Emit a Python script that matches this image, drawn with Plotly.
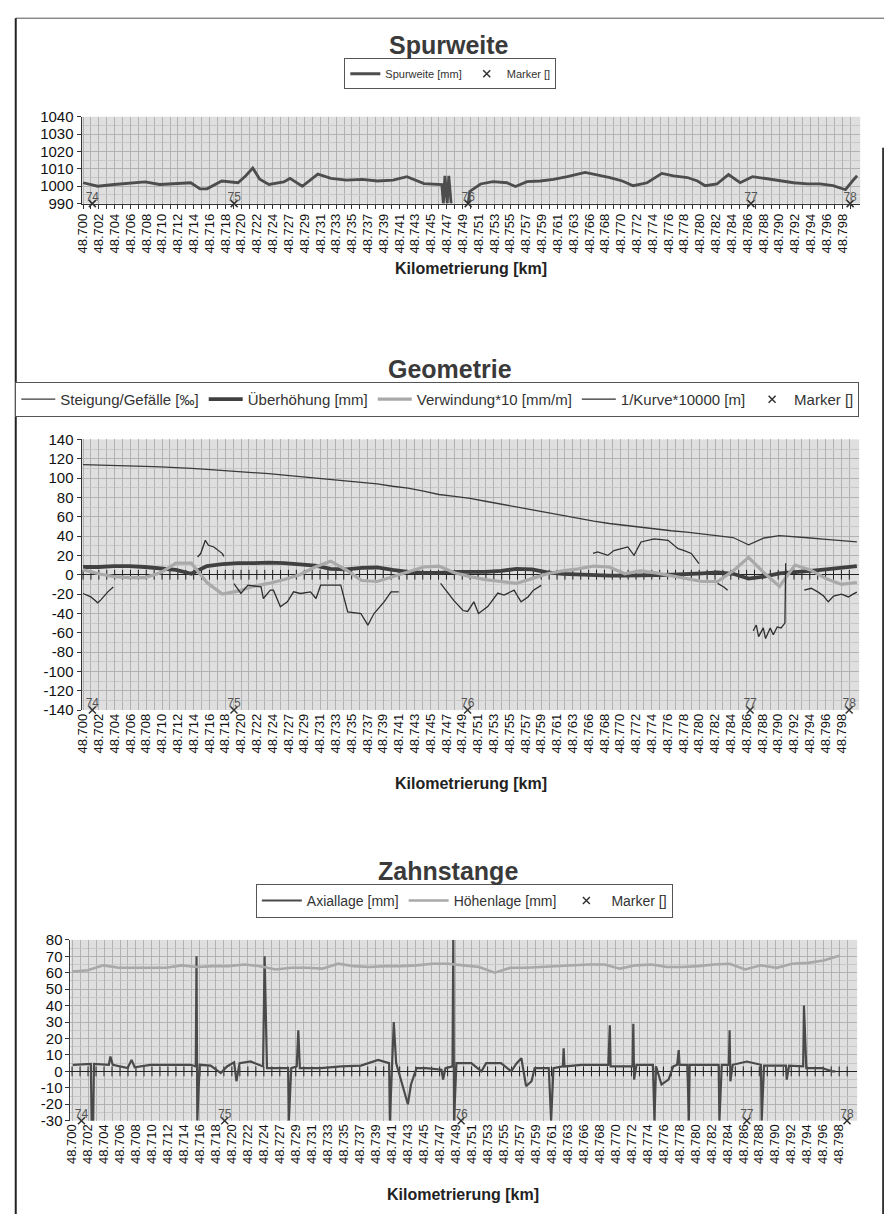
import plotly.graph_objects as go
import numpy as np

# ---------------- data ----------------
tick_labels = ["48.700", "48.702", "48.704", "48.706", "48.708", "48.710", "48.712", "48.714",
               "48.716", "48.718", "48.720", "48.722", "48.724", "48.727", "48.729", "48.731",
               "48.733", "48.735", "48.737", "48.739", "48.741", "48.743", "48.745", "48.747",
               "48.749", "48.751", "48.753", "48.755", "48.757", "48.759", "48.761", "48.763",
               "48.766", "48.768", "48.770", "48.772", "48.774", "48.776", "48.778", "48.780",
               "48.782", "48.784", "48.786", "48.788", "48.790", "48.792", "48.794", "48.796",
               "48.798"]
y1_ticks = [990, 1000, 1010, 1020, 1030, 1040]
y2_ticks = [-140, -120, -100, -80, -60, -40, -20, 0, 20, 40, 60, 80, 100, 120, 140]
y3_ticks = [-30, -20, -10, 0, 10, 20, 30, 40, 50, 60, 70, 80]

# Spurweite [mm]
spur_km = [48.7000, 48.7009, 48.7019, 48.7040, 48.7061, 48.7080, 48.7099, 48.7120, 48.7139,
           48.7151, 48.7160, 48.7179, 48.7200, 48.7210, 48.7219, 48.7228, 48.7240, 48.7259,
           48.7267, 48.7283, 48.7303, 48.7320, 48.7340, 48.7360, 48.7380, 48.7400, 48.7418,
           48.7440, 48.7461, 48.7463, 48.7465, 48.7467, 48.7470, 48.7472, 48.7475, 48.7486,
           48.7497, 48.7499, 48.7513, 48.7529, 48.7547, 48.7558, 48.7573, 48.7590, 48.7607,
           48.7625, 48.7648, 48.7664, 48.7680, 48.7696, 48.7710, 48.7728, 48.7747, 48.7762,
           48.7780, 48.7793, 48.7803, 48.7818, 48.7833, 48.7848, 48.7864, 48.7883, 48.7900,
           48.7917, 48.7935, 48.7951, 48.7968, 48.7984, 48.7993, 48.7999]
spur_mm = [1002, 1001, 1000, 1001, 1002, 1002.5, 1001, 1001.5, 1002,
           998.5, 998.5, 1003, 1002, 1006, 1010.5, 1004, 1001, 1002.5,
           1004.5, 1000, 1007, 1004.5, 1003.5, 1004, 1003, 1003.5, 1005.5,
           1001.5, 1001, 1001, 990, 1006, 990, 1006, 990, None,
           990, 997, 1001.3, 1002.6, 1002, 999.8, 1002.6, 1003, 1004,
           1005.5, 1008, 1006.7, 1005, 1003, 1000.3, 1002, 1007.4, 1006,
           1005, 1003, 1000.3, 1001.3, 1006.7, 1002, 1005.5, 1004.3, 1003,
           1002, 1001.3, 1001.3, 1000.3, 998, 1003, 1006]

# common 2 m grid
km_grid = [48.700, 48.702, 48.704, 48.706, 48.708, 48.710, 48.712, 48.714, 48.716, 48.718,
           48.720, 48.722, 48.724, 48.726, 48.728, 48.730, 48.732, 48.734, 48.736, 48.738,
           48.740, 48.742, 48.744, 48.746, 48.748, 48.750, 48.752, 48.754, 48.756, 48.758,
           48.760, 48.762, 48.764, 48.766, 48.768, 48.770, 48.772, 48.774, 48.776, 48.778,
           48.780, 48.782, 48.784, 48.786, 48.788, 48.790, 48.792, 48.794, 48.796, 48.798,
           48.800]

steigung = [113.8, 113.5, 113, 112.5, 112, 111.5, 111, 110, 109, 108,
            107, 106, 104.5, 103, 101.5, 100.5, 98.5, 97, 95.5, 94,
            91.5, 89.5, 86.5, 83, 81, 79, 76, 73, 70, 67,
            64, 61, 58, 55.5, 53, 51, 49, 47, 45.5, 44,
            42, 40.5, 38.5, 31, 38, 40.5, 39.5, 38, 36.5, 35,
            34]

ueberhoehung = [8, 8, 9, 9, 8, 6.5, 5, 1, 9, 11,
                12, 12, 12.5, 12, 11, 9.5, 6, 5.5, 7, 7.5,
                5, 3, 2, 2, 3, 3, 3, 4, 6, 5.5,
                2.5, 1, 0, -0.5, -1, -1, -1, -0.5, 0, 0.5,
                1.5, 2.5, 1, -4, -2, 1.5, 2.5, 4, 5.5, 7,
                9]

verwindung = [5, 1, -2, -3, -3, 2, 12, 12, -8, -20,
              -17, -12, -9, -5, 0, 8, 14, 5, -6, -7,
              -2, 3, 8, 9, 2, -2, -5, -7, -9, -4,
              1, 4, 6, 9, 8, 1, 4, 2, -1, -4,
              -7, -7, 4, 18, 2, -12, 10, 5, -4, -10,
              -8]

kurve_km = [48.7000, 48.7010, 48.7019, 48.7023, 48.7032, 48.7039, 48.7044,
            48.7148, 48.7152, 48.7158, 48.7162, 48.7169, 48.7174, 48.7180, 48.7182, 48.7188,
            48.7195, 48.7204, 48.7213, 48.7230, 48.7233, 48.7242, 48.7246, 48.7255, 48.7264,
            48.7272, 48.7281, 48.7294, 48.7301, 48.7307, 48.7324, 48.7333, 48.7342, 48.7359,
            48.7368, 48.7376, 48.7389, 48.7398, 48.7408, 48.7420,
            48.7462, 48.7469, 48.7479, 48.7491, 48.7497, 48.7505, 48.7511, 48.7523, 48.7536,
            48.7544, 48.7557, 48.7566, 48.7575, 48.7582, 48.7592, 48.7600,
            48.7659, 48.7665, 48.7678, 48.7686, 48.7704, 48.7712, 48.7721, 48.7738, 48.7756,
            48.7769, 48.7776, 48.7786, 48.7796, 48.7805,
            48.7820, 48.7828, 48.7833, 48.7840,
            48.7866, 48.7870, 48.7873, 48.7879, 48.7882, 48.7888, 48.7892, 48.7897, 48.7902,
            48.7907, 48.7908, 48.7915,
            48.7932, 48.7941, 48.7950, 48.7957, 48.7963, 48.7970, 48.7980, 48.7989, 48.7995,
            48.8000]
kurve = [-19.4, -22.8, -29, -26, -17.7, -12.6, None,
         18.4, 21.9, 35.6, 30.5, 28.7, 25.3, 21.9, 19, None,
         -9.1, -19.4, -10.8, -12.6, -24.6, -16, -16, -33.2, -28,
         -17.7, -19.4, -17.7, -24.6, -10.8, -10.8, -10.8, -38.4, -40.1,
         -52.2, -40.1, -28, -17.7, -17.7, None,
         -9, -16, -26.5, -37, -38, -28, -40, -33, -19,
         -21, -16, -28, -23, -16, -11, None,
         22, 23.6, 20, 25, 28.7, 20, 33.9, 37, 35.6,
         27, 25.3, 22, 11.6, None,
         -9, -12.6, -16, None,
         -58, -52, -64, -55, -66, -55, -62, -54, -55,
         -50, 12, None,
         -16, -14, -18, -22, -28, -22, -20, -23, -20,
         -18]

# Zahnstange
hoehenlage = [60.7, 61.5, 64.5, 63, 63, 63, 63, 64.5, 63.5, 64,
              64, 65, 64, 62, 63, 63, 62.5, 65.5, 64, 63.5,
              64, 64, 64.5, 65.5, 65.5, 64.5, 63.5, 60, 63, 63,
              63.5, 64, 64.5, 65, 65, 62.5, 64.5, 65, 63.5, 63.5,
              64, 65, 65.5, 62, 64.5, 63, 65.5, 66, 67.5, 70.3,
              None]

axial_km = [48.7001, 48.7024, 48.7025, 48.7026, 48.7027, 48.7028, 48.7047, 48.7049, 48.7052,
            48.7071, 48.7076, 48.7080, 48.7100,
            48.7126, 48.7152, 48.7158, 48.7159, 48.7160, 48.7163, 48.7177, 48.7190, 48.7198,
            48.7207, 48.7210, 48.7214, 48.7228, 48.7244, 48.7246, 48.7249, 48.7267, 48.7276,
            48.7277, 48.7280, 48.7287, 48.7289, 48.7291, 48.7318, 48.7344, 48.7369, 48.7391,
            48.7405, 48.7406, 48.7409, 48.7411, 48.7414, 48.7423, 48.7429, 48.7433, 48.7440,
            48.7452, 48.7472, 48.7474, 48.7477, 48.7486, 48.7487, 48.7488, 48.7491, 48.7510,
            48.7523, 48.7529, 48.7548, 48.7561, 48.7568, 48.7574, 48.7580, 48.7587, 48.7591,
            48.7609, 48.7612, 48.7615, 48.7627, 48.7628, 48.7629, 48.7651, 48.7676, 48.7685,
            48.7687, 48.7688, 48.7711, 48.7716, 48.7717, 48.7718, 48.7721, 48.7740, 48.7742,
            48.7744, 48.7746, 48.7753, 48.7762, 48.7768, 48.7773, 48.7775, 48.7776, 48.7786,
            48.7788, 48.7789, 48.7821, 48.7826, 48.7827, 48.7830, 48.7839, 48.7840, 48.7841,
            48.7844, 48.7862, 48.7877, 48.7880, 48.7881, 48.7884, 48.7912, 48.7913, 48.7916,
            48.7934, 48.7935, 48.7938, 48.7958, 48.7971, 48.7975]
axial = [4, 4.5, -30, -30, -30, 4.5, 4, 9, 4,
         2, 7, 2.5, 4,
         4, 4, 3, 70, -30, 4, 3.5, -1, 3,
         5.5, -6, 5, 6, 3, 70, 2, 2, 2,
         -30, 2, 3, 25, 2, 2, 3, 3.5, 7,
         5, -30, 5, 30, 5, -10, -20, -8, 2,
         2, 1, -5, 2, 3, 80, -30, 5, 5,
         0, 5, 5, 0, 5, 8, -9, -6, 2,
         2, -30, 2, 3, 14, 3, 4, 4, 4,
         28, 3, 3, 3, 29, -5, 4, 4, 4,
         -30, 3, -8, -5, 3, 4, 13, 4, 4,
         -30, 4, 4, 4, -30, 4, 4, 25, -6,
         4, 6, 4, 4, -30, 3.5, 3.5, -5, 3.5,
         3, 40, 2, 2, 0, 0]

marker_km = [48.7012, 48.7195, 48.7497, 48.7862, 48.7990]
marker_labels = ["74", "75", "76", "77", "78"]

# ---------------- styling ----------------
FONT = "Liberation Sans, Arial, sans-serif"
OFF = 8.0
W = 876.0
H = 1214.0
# measured mapping of the rendered page onto the picture
AX, BX = 0.991, 5.7
AY, BY = 0.987, 8.3

tickvals = list(np.linspace(48.700, 48.798, len(tick_labels)))
step = (48.798 - 48.700) / (len(tick_labels) - 1)
minor_vals = [48.700 + step * (k + 0.5) for k in range(len(tick_labels))] + \
             [48.700 - step * 0.5]
all_tick_pos = sorted(tickvals + minor_vals)
XR = [48.6998, 48.8003]

def pxx(px):
    m = (px - BX) / AX
    return min(max((m - OFF) / W, 0.0), 1.0)

def py(px):
    m = (px - BY) / AY
    return min(max(1 - (m - OFF) / H, 0.0), 1.0)

fig = go.Figure()

XMARK = dict(symbol="x-thin", size=7, line=dict(width=1.5, color="#333"))
LABFONT = dict(size=12, color="#555", family=FONT)

# ---- chart 1
fig.add_trace(go.Scatter(x=spur_km, y=spur_mm, mode="lines", name="Spurweite [mm]",
                         line=dict(color="#4d4d4d", width=2.8), connectgaps=False,
                         xaxis="x", yaxis="y", legend="legend"))
fig.add_trace(go.Scatter(x=marker_km, y=[990] * 5, mode="markers", name="Marker []",
                         marker=XMARK, cliponaxis=False, xaxis="x", yaxis="y", legend="legend"))
fig.add_trace(go.Scatter(x=marker_km, y=[990] * 5, mode="text", text=marker_labels,
                         textposition="top center", textfont=LABFONT,
                         showlegend=False, cliponaxis=False, xaxis="x", yaxis="y"))

# ---- chart 2
fig.add_trace(go.Scatter(x=all_tick_pos, y=[0] * len(all_tick_pos), mode="markers",
                         marker=dict(symbol="line-ns", size=7, line=dict(width=1, color="#222")),
                         showlegend=False, hoverinfo="skip", xaxis="x2", yaxis="y2"))
fig.add_trace(go.Scatter(x=km_grid, y=steigung, mode="lines", name="Steigung/Gefälle [‰]",
                         line=dict(color="#3a3a3a", width=1.3), xaxis="x2", yaxis="y2", legend="legend2"))
fig.add_trace(go.Scatter(x=km_grid, y=ueberhoehung, mode="lines", name="Überhöhung [mm]",
                         line=dict(color="#404040", width=3.8), xaxis="x2", yaxis="y2", legend="legend2"))
fig.add_trace(go.Scatter(x=km_grid, y=verwindung, mode="lines", name="Verwindung*10 [mm/m]",
                         line=dict(color="#a9a9a9", width=3.2), xaxis="x2", yaxis="y2", legend="legend2"))
fig.add_trace(go.Scatter(x=kurve_km, y=kurve, mode="lines", name="1/Kurve*10000 [m]",
                         line=dict(color="#2e2e2e", width=1.3), connectgaps=False,
                         xaxis="x2", yaxis="y2", legend="legend2"))
fig.add_trace(go.Scatter(x=marker_km, y=[-140] * 5, mode="markers", name="Marker []",
                         marker=XMARK, cliponaxis=False, xaxis="x2", yaxis="y2", legend="legend2"))
fig.add_trace(go.Scatter(x=marker_km, y=[-140] * 5, mode="text", text=marker_labels,
                         textposition="top center", textfont=LABFONT,
                         showlegend=False, cliponaxis=False, xaxis="x2", yaxis="y2"))

# ---- chart 3
fig.add_trace(go.Scatter(x=all_tick_pos, y=[0] * len(all_tick_pos), mode="markers",
                         marker=dict(symbol="line-ns", size=7, line=dict(width=1, color="#222")),
                         showlegend=False, hoverinfo="skip", xaxis="x3", yaxis="y3"))
fig.add_trace(go.Scatter(x=axial_km, y=axial, mode="lines", name="Axiallage [mm]",
                         line=dict(color="#4a4a4a", width=2.2), xaxis="x3", yaxis="y3", legend="legend3"))
fig.add_trace(go.Scatter(x=km_grid, y=hoehenlage, mode="lines", name="Höhenlage [mm]",
                         line=dict(color="#a8a8a8", width=2.6), xaxis="x3", yaxis="y3", legend="legend3"))
fig.add_trace(go.Scatter(x=marker_km, y=[-30] * 5, mode="markers", name="Marker []",
                         marker=XMARK, cliponaxis=False, xaxis="x3", yaxis="y3", legend="legend3"))
fig.add_trace(go.Scatter(x=marker_km, y=[-30] * 5, mode="text", text=marker_labels,
                         textposition="top center", textfont=LABFONT,
                         showlegend=False, cliponaxis=False, xaxis="x3", yaxis="y3"))

GRID = "#b2b2b2"
MINORGRID = "#c8c8c8"

def xaxis_cfg(domain, anchor, showline):
    return dict(domain=domain, anchor=anchor, range=XR, tickmode="array", tickvals=tickvals,
                ticktext=tick_labels, tickangle=-90,
                tickfont=dict(size=13, color="#111", family=FONT),
                showgrid=True, gridcolor=GRID, gridwidth=1,
                minor=dict(tickmode="array", tickvals=minor_vals, showgrid=True,
                           gridcolor=GRID, gridwidth=1,
                           ticks="outside" if showline else "", ticklen=4, tickcolor="#333"),
                ticks="outside" if showline else "", ticklen=4, tickcolor="#333",
                showline=showline, linecolor="#333", linewidth=1,
                zeroline=False, fixedrange=True)

def yaxis_cfg(domain, anchor, ticks):
    dtick = ticks[1] - ticks[0]
    return dict(domain=domain, anchor=anchor, range=[ticks[0], ticks[-1]],
                tickmode="array", tickvals=ticks, ticktext=[str(v) for v in ticks],
                tickfont=dict(size=15, color="#111", family=FONT),
                showgrid=True, gridcolor=GRID, gridwidth=1,
                minor=dict(tickmode="linear", tick0=ticks[0], dtick=dtick / 2, showgrid=True,
                           gridcolor=MINORGRID, gridwidth=1),
                ticks="outside", ticklen=4, tickcolor="#333",
                showline=True, linecolor="#333", linewidth=1,
                zeroline=True, zerolinecolor="#222", zerolinewidth=1.2, fixedrange=True)

def legend_cfg(xp, yp, size, iw):
    return dict(x=pxx(xp), y=py(yp), orientation="h", xanchor="center", yanchor="middle",
                bgcolor="white", bordercolor="#555", borderwidth=1,
                font=dict(size=size, color="#333", family=FONT),
                itemwidth=iw, tracegroupgap=0, itemclick=False)

fig.update_layout(
    width=int(W), height=int(H),
    margin=dict(l=0, r=0, t=0, b=0),
    paper_bgcolor="white",
    plot_bgcolor="#dfdfdf",
    font=dict(family=FONT, color="#222"),
    xaxis=xaxis_cfg([pxx(81), pxx(858)], "y", True),
    yaxis=yaxis_cfg([py(203), py(116)], "x", y1_ticks),
    xaxis2=xaxis_cfg([pxx(81), pxx(857)], "y2", False),
    yaxis2=yaxis_cfg([py(710), py(439)], "x2", y2_ticks),
    xaxis3=xaxis_cfg([pxx(70), pxx(855)], "y3", False),
    yaxis3=yaxis_cfg([py(1121), py(940)], "x3", y3_ticks),
    legend=legend_cfg(449, 73, 11, 30),
    legend2=legend_cfg(436, 399, 15, 34),
    legend3=legend_cfg(463, 901, 14, 40),
    showlegend=True,
)

titles = [("Spurweite", 448, 44), ("Geometrie", 449, 369), ("Zahnstange", 447, 871)]
for t, xp, ypx in titles:
    fig.add_annotation(text="<b>%s</b>" % t, x=pxx(xp), y=py(ypx), xref="paper", yref="paper",
                       showarrow=False, xanchor="center", yanchor="middle",
                       font=dict(size=25, color="#3a3a3a", family=FONT))
for xp, ypx in [(470, 268), (470, 783), (462, 1195)]:
    fig.add_annotation(text="<b>Kilometrierung [km]</b>", x=pxx(xp), y=py(ypx), xref="paper",
                       yref="paper", showarrow=False, xanchor="center", yanchor="middle",
                       font=dict(size=16, color="#222", family=FONT))

# page frame (scan border)
fig.add_shape(type="line", xref="paper", yref="paper", x0=0.002, x1=1, y0=0.999, y1=0.999,
              line=dict(color="#555", width=1))
fig.add_shape(type="line", xref="paper", yref="paper", x0=0.002, x1=0.002, y0=0, y1=0.999,
              line=dict(color="#222", width=2))
fig.add_shape(type="line", xref="paper", yref="paper", x0=0.999, x1=0.999, y0=0, y1=py(147),
              line=dict(color="#333", width=2))

fig.write_html("out.html")
